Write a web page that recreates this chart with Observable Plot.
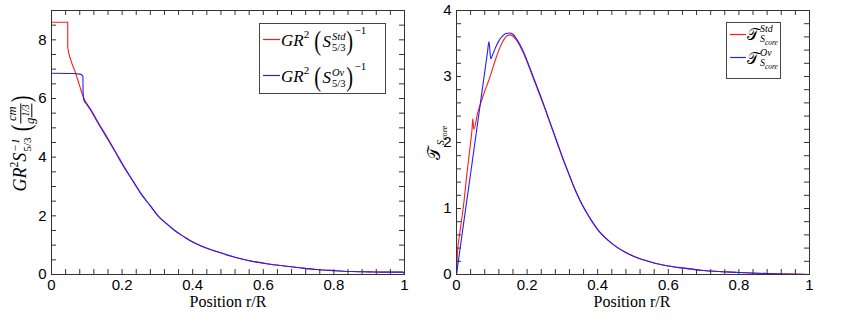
<!DOCTYPE html>
<html><head><meta charset="utf-8">
<script src="https://cdn.jsdelivr.net/npm/d3@7"></script>
<script src="https://cdn.jsdelivr.net/npm/@observablehq/plot@0.6"></script>
<style>
body{margin:0;background:#fff;}
#wrap{position:relative;width:845px;height:323px;overflow:hidden;font-family:"Liberation Serif","DejaVu Serif",serif;color:#000;}
#wrap > svg{position:absolute;top:0;}
.lbl{position:absolute;white-space:nowrap;}
.rot{transform:translate(-50%,-50%) rotate(-90deg);}
.ctr{transform:translate(-50%,-50%);}
.mi{font-style:italic;}
.st{display:inline-flex;flex-direction:column;vertical-align:middle;font-size:0.62em;line-height:1.05;margin-left:1px;text-align:left;}
.bp{display:inline-block;font-size:1.6em;font-style:normal;vertical-align:-0.14em;transform:scaleX(0.75);line-height:1;}
.sup{font-size:0.65em;vertical-align:0.75em;font-style:normal;}
.frac{display:inline-flex;flex-direction:column;vertical-align:middle;font-size:0.7em;line-height:1.1;text-align:center;}
.frac span:first-child{border-bottom:0.8px solid #000;padding:0 1px;}
.leg{position:absolute;border:1px solid #444;background:#fff;}
.sw{position:absolute;}
.le{position:absolute;white-space:nowrap;transform:translateY(-50%);}
.cal{font-family:"DejaVu Sans","Noto Sans",serif;font-style:normal;}
</style></head><body><div id="wrap"></div>
<script>
// ---- data ----
const xMajor = [0, 0.2, 0.4, 0.6, 0.8, 1];
const xTickLabels = ["0", "0.2", "0.4", "0.6", "0.8", "1"];
const xMinor = [0, 0.04, 0.08, 0.12, 0.16, 0.2, 0.24, 0.28, 0.32, 0.36, 0.4, 0.44, 0.48, 0.52, 0.56, 0.6, 0.64, 0.68, 0.72, 0.76, 0.8, 0.84, 0.88, 0.92, 0.96, 1];
const yMajorL = [0, 2, 4, 6, 8];
const yTickLabelsL = ["0", "2", "4", "6", "8"];
const yMinorL = [0, 0.5, 1, 1.5, 2, 2.5, 3, 3.5, 4, 4.5, 5, 5.5, 6, 6.5, 7, 7.5, 8, 8.5, 9];
const yMajorR = [0, 1, 2, 3, 4];
const yTickLabelsR = ["0", "1", "2", "3", "4"];
const yMinorR = [0, 0.2, 0.4, 0.6, 0.8, 1, 1.2, 1.4, 1.6, 1.8, 2, 2.2, 2.4, 2.6, 2.8, 3, 3.2, 3.4, 3.6, 3.8, 4];

// left panel: GR^2 S^-1
const posStdL = [0, 0.046, 0.0461, 0.055, 0.068, 0.08, 0.092, 0.1, 0.111, 0.13, 0.159, 0.18, 0.206, 0.23, 0.254, 0.28, 0.301, 0.325, 0.349, 0.375, 0.396, 0.424, 0.444, 0.481, 0.519, 0.56, 0.614, 0.66, 0.709, 0.75, 0.804, 0.85, 0.899, 0.95, 0.994, 1.0];
const gStd    = [8.6, 8.6, 7.74, 7.3, 6.88, 6.42, 6.0, 5.83, 5.63, 5.23, 4.65, 4.21, 3.67, 3.2, 2.75, 2.34, 2.01, 1.74, 1.50, 1.29, 1.13, 0.97, 0.88, 0.73, 0.59, 0.47, 0.36, 0.29, 0.22, 0.17, 0.13, 0.10, 0.09, 0.08, 0.08, 0.04];
const posOvL  = [0, 0.06, 0.08, 0.086, 0.089, 0.0895, 0.092, 0.1, 0.111, 0.13, 0.159, 0.18, 0.206, 0.23, 0.254, 0.28, 0.301, 0.325, 0.349, 0.375, 0.396, 0.424, 0.444, 0.481, 0.519, 0.56, 0.614, 0.66, 0.709, 0.75, 0.804, 0.85, 0.899, 0.95, 0.994, 1.0];
const gOv     = [6.86, 6.85, 6.83, 6.8, 6.75, 6.2, 5.94, 5.8, 5.6, 5.2, 4.62, 4.19, 3.65, 3.2, 2.75, 2.34, 2.01, 1.74, 1.50, 1.29, 1.13, 0.97, 0.88, 0.73, 0.59, 0.47, 0.36, 0.29, 0.22, 0.17, 0.13, 0.10, 0.09, 0.08, 0.08, 0.04];

// right panel: T_Score
const posStdR = [0, 0.003, 0.01, 0.02, 0.03, 0.04, 0.044, 0.046, 0.049, 0.06, 0.07, 0.08, 0.09, 0.1, 0.11, 0.12, 0.13, 0.14, 0.15, 0.16, 0.17, 0.18, 0.19, 0.2, 0.21, 0.22, 0.23, 0.24, 0.25, 0.26, 0.27, 0.28, 0.29, 0.3, 0.32, 0.334, 0.35, 0.382, 0.4, 0.429, 0.45, 0.477, 0.5, 0.524, 0.55, 0.572, 0.6, 0.638, 0.7, 0.8, 0.9, 1.0];
const tStd    = [0, 0.35, 0.65, 1.05, 1.55, 2.0, 2.2, 2.36, 2.2, 2.45, 2.62, 2.78, 2.92, 3.08, 3.25, 3.40, 3.52, 3.60, 3.63, 3.61, 3.55, 3.46, 3.35, 3.22, 3.08, 2.94, 2.8, 2.66, 2.52, 2.37, 2.22, 2.07, 1.92, 1.77, 1.50, 1.31, 1.12, 0.82, 0.68, 0.52, 0.43, 0.34, 0.28, 0.23, 0.19, 0.16, 0.13, 0.10, 0.06, 0.03, 0.01, 0.0];
const posOvR  = [0, 0.02, 0.04, 0.06, 0.08, 0.088, 0.092, 0.097, 0.1, 0.11, 0.12, 0.13, 0.14, 0.15, 0.16, 0.17, 0.18, 0.19, 0.2, 0.21, 0.22, 0.23, 0.24, 0.25, 0.26, 0.27, 0.28, 0.29, 0.3, 0.32, 0.334, 0.35, 0.382, 0.4, 0.429, 0.45, 0.477, 0.5, 0.524, 0.55, 0.572, 0.6, 0.638, 0.7, 0.8, 0.9, 1.0];
const tOv     = [0, 0.77, 1.53, 2.3, 3.07, 3.38, 3.53, 3.27, 3.3, 3.43, 3.54, 3.61, 3.65, 3.66, 3.64, 3.57, 3.48, 3.37, 3.24, 3.1, 2.96, 2.82, 2.68, 2.53, 2.38, 2.23, 2.08, 1.93, 1.78, 1.50, 1.31, 1.12, 0.82, 0.68, 0.52, 0.43, 0.34, 0.28, 0.23, 0.19, 0.16, 0.13, 0.10, 0.06, 0.03, 0.01, 0.0];

const RED = "#ff1a1a", BLUE = "#2020ff";

function panel(o) {
  const pts = (xs, ys) => xs.map((x, i) => ({x, y: ys[i]}));
  const TL = 5;
  const fh = 323 - 10 - 49, fw = o.width - o.ml - o.mr;
  const tk = {stroke: "#333", strokeWidth: 1};
  return Plot.plot({
    width: o.width, height: 323,
    marginLeft: o.ml, marginRight: o.mr, marginTop: 10, marginBottom: 49,
    x: {domain: [0, 1]}, y: {domain: o.yDomain},
    style: {fontFamily: "'Liberation Sans', Arial, sans-serif", fontSize: "15px", color: "#000", background: "transparent", overflow: "visible"},
    marks: [
      Plot.line(pts(o.xs1, o.ys1), {x: "x", y: "y", stroke: RED, strokeWidth: 1.1, curve: "monotone-x"}),
      Plot.line(pts(o.xs2, o.ys2), {x: "x", y: "y", stroke: BLUE, strokeWidth: 1.1, curve: "monotone-x"}),
      Plot.tickX(xMinor, {x: d => d, insetTop: fh - TL, ...tk}),
      Plot.tickX(xMinor, {x: d => d, insetBottom: fh - TL, ...tk}),
      Plot.tickY(o.yMinor, {y: d => d, insetRight: fw - TL, ...tk}),
      Plot.tickY(o.yMinor, {y: d => d, insetLeft: fw - TL, ...tk}),
      Plot.axisX({anchor: "bottom", ticks: xMajor, tickSize: 0, tickPadding: 5, label: null,
        tickFormat: d => xTickLabels[xMajor.indexOf(d)], fill: "#000"}),
      Plot.axisY({anchor: "left", ticks: o.yMajor, tickSize: 0, tickPadding: 5, label: null,
        tickFormat: d => o.yLabels[o.yMajor.indexOf(d)], fill: "#000"}),
      Plot.frame({stroke: "#333", strokeWidth: 1})
    ]
  });
}

const wrap = document.getElementById("wrap");
const left = panel({width: 420, ml: 51, mr: 16, yDomain: [0, 9], yMajor: yMajorL, yLabels: yTickLabelsL, yMinor: yMinorL,
  xs1: posStdL, ys1: gStd, xs2: posOvL, ys2: gOv});
left.style.left = "0px";
wrap.appendChild(left);
const right = panel({width: 425, ml: 36, mr: 36, yDomain: [0, 4], yMajor: yMajorR, yLabels: yTickLabelsR, yMinor: yMinorR,
  xs1: posStdR, ys1: tStd, xs2: posOvR, ys2: tOv});
right.style.left = "420px";
wrap.appendChild(right);

// ---- text overlays ----
const st = (a, b) => `<span class="st"><span>${a}</span><span>${b}</span></span>`;
const sw = (c, w) => `<svg width="${w}" height="3" style="display:block"><line x1="0" x2="${w}" y1="1.5" y2="1.5" stroke="${c}" stroke-width="1.2"/></svg>`;
const gEntry = tag => `<span class="mi">GR<span class="sup">2</span></span> <span class="bp">(</span><span class="mi">S</span>${st(`<i>${tag}</i>`, "5/3")}<span class="bp">)</span><span class="sup" style="vertical-align:1.1em">−1</span>`;
const tEntry = tag => `<span class="cal">𝒯</span>${st(`<i>${tag}</i>`, `<i>S<sub style="font-size:0.75em">core</sub></i>`)}`;

wrap.insertAdjacentHTML("beforeend", `
<div class="lbl ctr" style="left:228px;top:302px;font-size:16px">Position r/R</div>
<div class="lbl ctr" style="left:632px;top:302px;font-size:16px">Position r/R</div>
<div class="lbl rot" style="left:22px;top:143px;font-size:18px"><span class="mi">GR<span class="sup">2</span>S</span>${st("<i>−1</i>", "5/3")} <span class="bp" style="font-size:1.5em">(</span><span class="frac"><span class="mi">cm</span><span class="mi">g<span style="font-size:0.75em;vertical-align:0.5em">1/3</span></span></span><span class="bp" style="font-size:1.5em">)</span></div>
<div class="lbl rot" style="left:437px;top:143px;font-size:17px"><span class="cal">𝒯</span><sub style="font-size:0.6em;margin-left:2px"><i>S</i><sub style="font-size:0.8em"><i>core</i></sub></sub></div>
<div class="leg" style="left:259px;top:23px;width:125px;height:69px">
  <div class="sw" style="left:3px;top:14px">${sw(RED, 17)}</div>
  <div class="le" style="left:21px;top:16px;font-size:17px">${gEntry("Std")}</div>
  <div class="sw" style="left:3px;top:50px">${sw(BLUE, 17)}</div>
  <div class="le" style="left:21px;top:52px;font-size:17px">${gEntry("Ov")}</div>
</div>
<div class="leg" style="left:726px;top:22px;width:53px;height:55px">
  <div class="sw" style="left:3px;top:10px">${sw(RED, 16)}</div>
  <div class="le" style="left:20px;top:13px;font-size:16px">${tEntry("Std")}</div>
  <div class="sw" style="left:3px;top:33px">${sw(BLUE, 16)}</div>
  <div class="le" style="left:20px;top:37px;font-size:16px">${tEntry("Ov")}</div>
</div>
`);
</script>
</body></html>
